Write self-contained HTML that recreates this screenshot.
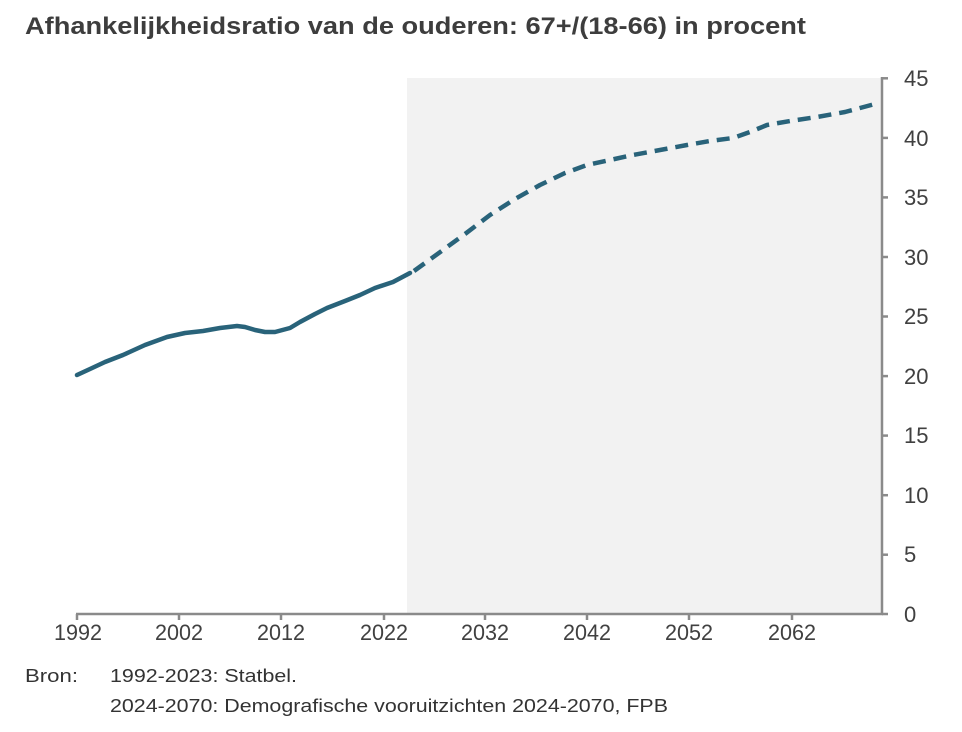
<!DOCTYPE html>
<html>
<head>
<meta charset="utf-8">
<style>
  html, body { margin: 0; padding: 0; background: #ffffff; }
  svg { display: block; }
  text { font-family: "Liberation Sans", "DejaVu Sans", sans-serif; }
</style>
</head>
<body>
<svg width="962" height="732" viewBox="0 0 962 732" xmlns="http://www.w3.org/2000/svg">
  <rect x="0" y="0" width="962" height="732" fill="#ffffff"/>

  <!-- Title -->
  <text x="25" y="34" font-size="24" font-weight="bold" fill="#3d3d3d" textLength="781" lengthAdjust="spacingAndGlyphs">Afhankelijkheidsratio van de ouderen: 67+/(18-66) in procent</text>

  <!-- Projection shading -->
  <rect x="407" y="78" width="475" height="536" fill="#f2f2f2"/>

  <!-- Axes -->
  <g stroke="#8a8a8a" stroke-width="2.5" fill="none">
    <line x1="882" y1="77" x2="882" y2="615"/>
    <line x1="76" y1="614" x2="883" y2="614"/>
    <!-- y ticks (right) -->
    <line x1="882" y1="78.3" x2="888" y2="78.3"/>
    <line x1="882" y1="137.9" x2="888" y2="137.9"/>
    <line x1="882" y1="197.4" x2="888" y2="197.4"/>
    <line x1="882" y1="257" x2="888" y2="257"/>
    <line x1="882" y1="316.5" x2="888" y2="316.5"/>
    <line x1="882" y1="376.1" x2="888" y2="376.1"/>
    <line x1="882" y1="435.6" x2="888" y2="435.6"/>
    <line x1="882" y1="495.2" x2="888" y2="495.2"/>
    <line x1="882" y1="554.7" x2="888" y2="554.7"/>
    <line x1="882" y1="614" x2="888" y2="614"/>
    <!-- x ticks (down) -->
    <line x1="77" y1="614" x2="77" y2="620"/>
    <line x1="179" y1="614" x2="179" y2="620"/>
    <line x1="281" y1="614" x2="281" y2="620"/>
    <line x1="384" y1="614" x2="384" y2="620"/>
    <line x1="485" y1="614" x2="485" y2="620"/>
    <line x1="587" y1="614" x2="587" y2="620"/>
    <line x1="689" y1="614" x2="689" y2="620"/>
    <line x1="792" y1="614" x2="792" y2="620"/>
  </g>

  <!-- Y labels -->
  <g font-size="22" fill="#404040">
    <text x="904" y="86">45</text>
    <text x="904" y="146">40</text>
    <text x="904" y="205">35</text>
    <text x="904" y="265">30</text>
    <text x="904" y="324">25</text>
    <text x="904" y="384">20</text>
    <text x="904" y="443">15</text>
    <text x="904" y="503">10</text>
    <text x="904" y="562">5</text>
    <text x="904" y="622">0</text>
  </g>

  <!-- X labels -->
  <g font-size="22" fill="#404040" text-anchor="middle">
    <text x="78" y="640" textLength="48" lengthAdjust="spacingAndGlyphs">1992</text>
    <text x="179" y="640" textLength="48" lengthAdjust="spacingAndGlyphs">2002</text>
    <text x="281" y="640" textLength="48" lengthAdjust="spacingAndGlyphs">2012</text>
    <text x="384" y="640" textLength="48" lengthAdjust="spacingAndGlyphs">2022</text>
    <text x="485" y="640" textLength="48" lengthAdjust="spacingAndGlyphs">2032</text>
    <text x="587" y="640" textLength="48" lengthAdjust="spacingAndGlyphs">2042</text>
    <text x="689" y="640" textLength="48" lengthAdjust="spacingAndGlyphs">2052</text>
    <text x="792" y="640" textLength="48" lengthAdjust="spacingAndGlyphs">2062</text>
  </g>

  <!-- Observed (solid) -->
  <polyline fill="none" stroke="#29637a" stroke-width="4.5" stroke-linejoin="round" stroke-linecap="round"
    points="77,375 90,369 105,362 123,355 145,345 167,337 185,333 203,331 220,328 237,326 245,327 255,330 265,332 275,332 290,328 300,322 315,314 327,308 345,301 360,295 375,288 393,282 410,273"/>

  <!-- Projection (dashed) -->
  <polyline fill="none" stroke="#29637a" stroke-width="4.5" stroke-linejoin="round" stroke-dasharray="13 8"
    points="414,271 443,250 465,234 490,215 515,199 540,185 565,173 587,165 610,160 633,155 660,150 687,145 710,141 733,138 750,132 767,125 790,121 817,117 845,112 875,104"/>

  <!-- Source -->
  <g font-size="18" fill="#333333">
    <text x="25" y="682" textLength="53" lengthAdjust="spacingAndGlyphs">Bron:</text>
    <text x="110" y="682" textLength="187" lengthAdjust="spacingAndGlyphs">1992-2023: Statbel.</text>
    <text x="110" y="712" textLength="558" lengthAdjust="spacingAndGlyphs">2024-2070: Demografische vooruitzichten 2024-2070, FPB</text>
  </g>
</svg>
</body>
</html>
